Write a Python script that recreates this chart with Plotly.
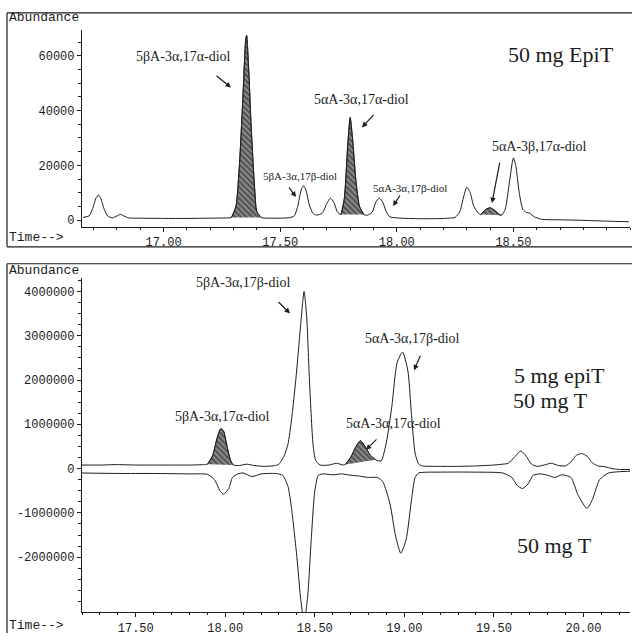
import plotly.graph_objects as go

# ---------------- data ----------------
# Top panel: 50 mg EpiT
top_time = [16.655,16.68,16.695,16.71,16.72,16.73,16.745,16.76,16.78,16.80,16.815,16.83,16.85,16.90,17.00,17.10,17.20,17.28,
            17.29,17.31,17.325,17.34,17.352,17.356,17.365,17.375,17.39,17.40,17.42,17.45,17.50,17.54,17.56,17.575,17.59,17.60,
            17.61,17.625,17.64,17.655,17.68,17.70,17.715,17.73,17.745,17.76,17.775,17.79,17.80,17.81,17.825,17.84,17.86,17.875,
            17.895,17.91,17.925,17.94,17.955,17.97,18.00,18.05,18.10,18.15,18.20,18.25,18.27,18.285,18.30,18.315,18.33,18.35,
            18.36,18.38,18.40,18.42,18.44,18.45,18.465,18.48,18.495,18.50,18.51,18.525,18.54,18.555,18.57,18.59,18.62,18.70,
            18.80,18.90,18.995]
top_abund = [1000,1500,4000,8000,9200,8000,4000,1500,800,1500,2100,1500,800,700,600,600,700,800,
             900,5000,20000,45000,66000,67500,55000,35000,12000,3000,900,700,700,900,1500,5000,11000,12500,
             11000,5500,2500,1800,2500,6000,8000,6500,3000,2000,8000,28000,37500,30000,14000,5000,2000,1800,
             3000,6500,8000,6500,3000,1200,800,600,500,500,600,1000,3000,8000,12000,10000,5000,2500,
             2000,3800,4500,3500,2000,1800,4000,12000,21000,22700,20000,10000,4000,2800,2500,1200,300,100,
             -100,-400,-600]
top_shade_start = [17.29, 17.76, 18.36]
top_shade_end = [17.42, 17.86, 18.45]

# Bottom panel, upper trace: 5 mg epiT + 50 mg T (abundance in millions)
mix_time = [17.20,17.30,17.40,17.50,17.60,17.70,17.80,17.88,17.90,17.93,17.955,17.975,17.99,18.01,18.03,18.045,18.08,18.12,
            18.16,18.22,18.28,18.30,18.33,18.35,18.37,18.395,18.42,18.44,18.455,18.47,18.49,18.505,18.53,18.58,18.62,18.66,
            18.67,18.70,18.73,18.755,18.78,18.81,18.84,18.87,18.90,18.93,18.96,18.99,19.02,19.04,19.06,19.08,19.10,19.20,
            19.30,19.40,19.50,19.55,19.58,19.62,19.65,19.68,19.71,19.74,19.78,19.82,19.86,19.90,19.93,19.96,19.99,20.02,
            20.05,20.08,20.12,20.16,20.20,20.26]
mix_abund_m = [0.08,0.08,0.09,0.08,0.08,0.08,0.08,0.09,0.10,0.30,0.70,0.90,0.85,0.50,0.18,0.08,0.07,0.10,
               0.07,0.05,0.07,0.10,0.30,0.55,1.10,2.05,3.20,4.00,3.40,2.00,0.55,0.18,0.08,0.08,0.12,0.08,
               0.09,0.25,0.50,0.63,0.50,0.30,0.20,0.17,0.60,1.40,2.40,2.63,2.20,1.20,0.35,0.10,0.06,0.05,
               0.05,0.06,0.08,0.10,0.12,0.28,0.40,0.28,0.10,0.05,0.08,0.12,0.07,0.06,0.15,0.30,0.34,0.28,
               0.13,0.06,0.04,0.00,-0.02,-0.02]
mix_shade_start = [17.90, 18.67]
mix_shade_end = [18.045, 18.84]

# Bottom panel, lower (inverted) trace: 50 mg T (abundance in millions)
t_time = [17.20,17.40,17.60,17.80,17.90,17.94,17.97,17.99,18.02,18.04,18.07,18.10,18.15,18.20,18.28,18.32,18.35,18.37,
          18.40,18.42,18.44,18.46,18.48,18.50,18.52,18.55,18.60,18.65,18.70,18.75,18.80,18.85,18.88,18.92,18.95,18.98,
          19.01,19.04,19.06,19.08,19.20,19.40,19.55,19.60,19.63,19.66,19.69,19.72,19.76,19.80,19.84,19.88,19.93,19.97,
          20.02,20.05,20.09,20.14,20.20,20.26]
t_abund_m = [-0.10,-0.11,-0.11,-0.12,-0.13,-0.25,-0.50,-0.58,-0.45,-0.20,-0.12,-0.10,-0.18,-0.12,-0.11,-0.15,-0.40,-0.90,
             -2.00,-2.90,-3.45,-2.90,-1.60,-0.50,-0.15,-0.12,-0.14,-0.12,-0.15,-0.17,-0.20,-0.20,-0.30,-0.80,-1.50,-1.91,
             -1.60,-0.70,-0.20,-0.10,-0.08,-0.08,-0.10,-0.20,-0.38,-0.45,-0.35,-0.15,-0.12,-0.15,-0.20,-0.14,-0.20,-0.60,
             -0.90,-0.70,-0.25,-0.10,-0.07,-0.06]

top_yticks = [0, 20000, 40000, 60000]
top_yticklabels = ["0", "20000", "40000", "60000"]
bot_yticks = [-2000000, -1000000, 0, 1000000, 2000000, 3000000, 4000000]
bot_yticklabels = ["-2000000", "-1000000", "0", "1000000", "2000000", "3000000", "4000000"]

# ---------------- figure ----------------
W, H = 637, 636
INK = "#1c1c1c"
mono = "Liberation Mono"
serif = "Liberation Serif"

def px(x):
    return x / W

def py(y):
    return 1 - y / H

mix_abund = [v * 1e6 for v in mix_abund_m]
t_abund = [v * 1e6 for v in t_abund_m]

fig = go.Figure()

def add_shades(times, vals, starts, ends, xa, ya):
    for s, e in zip(starts, ends):
        xs = [t for t in times if s - 1e-9 <= t <= e + 1e-9]
        ys = [v for t, v in zip(times, vals) if s - 1e-9 <= t <= e + 1e-9]
        fig.add_trace(go.Scatter(
            x=xs, y=ys, xaxis=xa, yaxis=ya, mode="lines", fill="toself",
            line=dict(color=INK, width=0.8, shape="spline", smoothing=0.6),
            fillcolor="#7a7a7a",
            fillpattern=dict(shape="\\", fgcolor="#111111", bgcolor="#8c8c8c", size=4, solidity=0.5),
            hoverinfo="skip", showlegend=False))

add_shades(top_time, top_abund, top_shade_start, top_shade_end, "x", "y")
add_shades(mix_time, mix_abund, mix_shade_start, mix_shade_end, "x2", "y2")

line_style = dict(color=INK, width=1.0, shape="spline", smoothing=0.6)
fig.add_trace(go.Scatter(x=top_time, y=top_abund, xaxis="x", yaxis="y", mode="lines",
                         line=line_style, name="50 mg EpiT", showlegend=False))
fig.add_trace(go.Scatter(x=mix_time, y=mix_abund, xaxis="x2", yaxis="y2", mode="lines",
                         line=line_style, name="5 mg epiT + 50 mg T", showlegend=False))
fig.add_trace(go.Scatter(x=t_time, y=t_abund, xaxis="x2", yaxis="y2", mode="lines",
                         line=line_style, name="50 mg T", showlegend=False))

tickfont = dict(family=mono, size=12, color=INK)
axis_common = dict(showline=True, linecolor=INK, linewidth=1.2, showgrid=False, zeroline=False,
                   ticks="outside", ticklen=4, tickwidth=1, tickcolor=INK, tickfont=tickfont)

fig.update_layout(
    width=W, height=H, margin=dict(l=0, r=0, t=0, b=0),
    paper_bgcolor="white", plot_bgcolor="white", showlegend=False,
    xaxis=dict(domain=[px(82), px(630)], range=[16.65, 19.0], anchor="y",
               tickvals=[17.0, 17.5, 18.0, 18.5], ticktext=["17.00", "17.50", "18.00", "18.50"],
               minor=dict(dtick=0.1, tick0=17.0, ticks="outside", ticklen=2, tickcolor=INK),
               **axis_common),
    yaxis=dict(domain=[py(228), py(30)], range=[-2500, 69500], anchor="x",
               tickvals=top_yticks, ticktext=top_yticklabels,
               minor=dict(dtick=5000, tick0=0, ticks="outside", ticklen=3, tickcolor=INK),
               **axis_common),
    xaxis2=dict(domain=[px(82), px(630)], range=[17.2, 20.26], anchor="y2",
                tickvals=[17.5, 18.0, 18.5, 19.0, 19.5, 20.0],
                ticktext=["17.50", "18.00", "18.50", "19.00", "19.50", "20.00"],
                minor=dict(dtick=0.1, tick0=17.0, ticks="outside", ticklen=2, tickcolor=INK),
                **axis_common),
    yaxis2=dict(domain=[py(615), py(279)], range=[-3240000, 4310000], anchor="x2",
                tickvals=bot_yticks, ticktext=bot_yticklabels,
                minor=dict(dtick=250000, tick0=0, ticks="outside", ticklen=3, tickcolor=INK),
                **axis_common),
)

# frame lines
frame = [
    (7, 13, 632, 13), (7, 13, 7, 248), (7, 248, 632, 248),
    (7, 265, 632, 265), (7, 265, 7, 636),
]
for x0, y0, x1, y1 in frame:
    fig.add_shape(type="line", xref="paper", yref="paper",
                  x0=px(x0), y0=py(y0), x1=px(x1), y1=py(y1),
                  line=dict(color=INK, width=1.2))

def text(s, x, y, size, family=serif, xanchor="center"):
    fig.add_annotation(text=s, x=px(x), y=py(y), xref="paper", yref="paper",
                       showarrow=False, xanchor=xanchor, yanchor="middle",
                       font=dict(family=family, size=size, color=INK))

def arrow(tx, ty, hx, hy):
    fig.add_annotation(text="", x=px(hx), y=py(hy), xref="paper", yref="paper",
                       ax=tx - hx, ay=ty - hy, showarrow=True,
                       arrowhead=2, arrowsize=0.9, arrowwidth=1.2, arrowcolor=INK)

# axis captions
text("Abundance", 7, 18, 13, mono, "left")
text("Time-->", 7, 239, 13, mono, "left")
text("Abundance", 7, 272, 13, mono, "left")
text("Time-->", 7, 628, 13, mono, "left")

# top panel labels
text("5βA-3α,17α-diol", 183, 57, 14)
text("5αA-3α,17α-diol", 361, 100, 14)
text("5βA-3α,17β-diol", 300, 177, 11)
text("5αA-3α,17β-diol", 410, 189, 11)
text("5αA-3β,17α-diol", 539, 147, 14)
text("50 mg EpiT", 561, 55, 22)
arrow(215, 75, 231, 88)
arrow(375, 114, 362, 128)
arrow(288, 187, 296, 198)
arrow(401, 195, 393, 207)
arrow(500, 162, 492, 204)

# bottom panel labels
text("5βA-3α,17β-diol", 243, 284, 14)
text("5βA-3α,17α-diol", 222, 418, 14)
text("5αA-3α,17β-diol", 412, 340, 14)
text("5αA-3α,17α-diol", 393, 426, 14)
text("5 mg epiT", 559, 377, 22)
text("50 mg T", 550, 402, 22)
text("50 mg T", 554, 548, 22)
arrow(277, 302, 290, 315)
arrow(421, 356, 414, 372)
arrow(378, 440, 366, 452)

fig.write_html("out.html", config={"displayModeBar": False},
               post_script="document.body.style.margin='0px';document.body.style.padding='0px';")
